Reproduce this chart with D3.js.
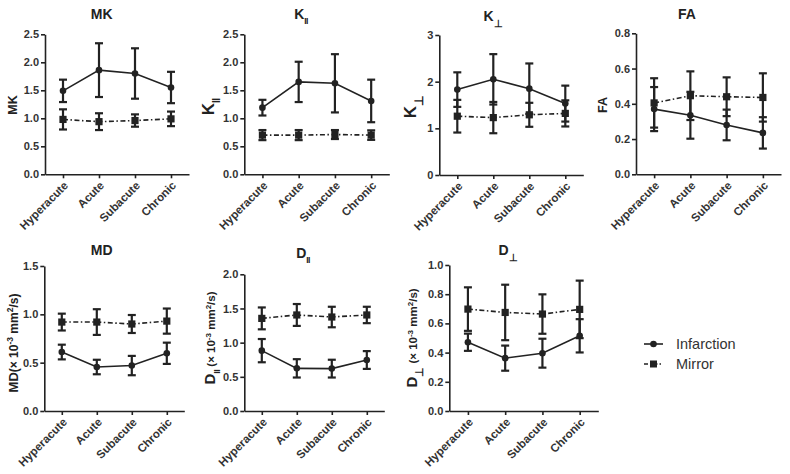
<!DOCTYPE html>
<html><head><meta charset="utf-8">
<script src="https://cdn.jsdelivr.net/npm/d3@7"></script>
<style>
html,body{margin:0;padding:0;background:#fff;}
svg{display:block;font-family:"Liberation Sans",Arial,sans-serif;}
</style></head>
<body><svg id="c" width="790" height="474"></svg>
<script>
// ---------- data ----------
const categories = ["Hyperacute", "Acute", "Subacute", "Chronic"];
const seriesNames = ["Infarction", "Mirror"];

const mkInfarction   = [1.49, 1.86, 1.80, 1.55];
const mkInfarctionSD = [0.20, 0.48, 0.45, 0.28];
const mkMirror       = [0.98, 0.94, 0.96, 0.99];
const mkMirrorSD     = [0.18, 0.15, 0.11, 0.13];

const kParInfarction   = [1.19, 1.65, 1.625, 1.31];
const kParInfarctionSD = [0.14, 0.36, 0.52, 0.38];
const kParMirror       = [0.70, 0.70, 0.71, 0.70];
const kParMirrorSD     = [0.09, 0.09, 0.08, 0.085];

const kPerpInfarction   = [1.83, 2.05, 1.85, 1.53];
const kPerpInfarctionSD = [0.37, 0.54, 0.54, 0.385];
const kPerpMirror       = [1.26, 1.23, 1.29, 1.32];
const kPerpMirrorSD     = [0.35, 0.335, 0.257, 0.28];

const faInfarction   = [0.37, 0.335, 0.28, 0.235];
const faInfarctionSD = [0.125, 0.133, 0.087, 0.089];
const faMirror       = [0.405, 0.446, 0.44, 0.436];
const faMirrorSD     = [0.14, 0.138, 0.11, 0.137];

const mdInfarction   = [0.61, 0.455, 0.47, 0.597];
const mdInfarctionSD = [0.076, 0.075, 0.10, 0.11];
const mdMirror       = [0.92, 0.92, 0.90, 0.93];
const mdMirrorSD     = [0.087, 0.133, 0.093, 0.13];

const dParInfarction   = [0.883, 0.624, 0.62, 0.746];
const dParInfarctionSD = [0.17, 0.134, 0.13, 0.13];
const dParMirror       = [1.355, 1.405, 1.375, 1.405];
const dParMirrorSD     = [0.16, 0.16, 0.15, 0.12];

const dPerpInfarction   = [0.471, 0.362, 0.396, 0.515];
const dPerpInfarctionSD = [0.059, 0.086, 0.099, 0.114];
const dPerpMirror       = [0.698, 0.675, 0.664, 0.696];
const dPerpMirrorSD     = [0.149, 0.19, 0.135, 0.197];

const mkTicks   = [0, 0.5, 1.0, 1.5, 2.0, 2.5];
const kParTicks = [0, 0.5, 1.0, 1.5, 2.0, 2.5];
const kPerpTicks= [0, 1, 2, 3];
const faTicks   = [0, 0.2, 0.4, 0.6, 0.8];
const mdTicks   = [0, 0.5, 1.0, 1.5];
const dParTicks = [0, 0.5, 1.0, 1.5, 2.0];
const dPerpTicks= [0, 0.2, 0.4, 0.6, 0.8, 1.0];

// ---------- layout ----------
const ink = "#222";
const txt = "#333";
const PAR = "II";       // parallel sign as drawn in the figure
const PERP = "\u22A5";  // perpendicular sign
const panels = [
  {inf: mkInfarction, infSD: mkInfarctionSD, mir: mkMirror, mirSD: mkMirrorSD, ticks: mkTicks, fmt: ".1f",
   x0: 45, top: 34.3, bottom: 174.3, len: 144, title: [["MK"]], tx: 101.7, ty: 19,
   ylab: [["MK"]], lx: 17, ly: 105},
  {inf: kParInfarction, infSD: kParInfarctionSD, mir: kParMirror, mirSD: kParMirrorSD, ticks: kParTicks, fmt: ".1f",
   x0: 244.3, top: 34.3, bottom: 174.3, len: 145, title: [["K"], [PAR, "sub", 8.5]], tx: 301, ty: 19,
   ylab: [["K", null, 17], [PAR, "sub", 10]], lx: 214, ly: 107},
  {inf: kPerpInfarction, infSD: kPerpInfarctionSD, mir: kPerpMirror, mirSD: kPerpMirrorSD, ticks: kPerpTicks, fmt: "d",
   x0: 439.3, top: 35, bottom: 175, len: 144, title: [["K"], [PERP, "sub", 10]], tx: 493, ty: 21,
   ylab: [["K", null, 17], [PERP, "sub", 12]], lx: 416, ly: 107},
  {inf: faInfarction, infSD: faInfarctionSD, mir: faMirror, mirSD: faMirrorSD, ticks: faTicks, fmt: ".1f",
   x0: 636, top: 33.3, bottom: 174.3, len: 145, title: [["FA"]], tx: 687, ty: 19,
   ylab: [["FA"]], lx: 607, ly: 105},
  {inf: mdInfarction, infSD: mdInfarctionSD, mir: mdMirror, mirSD: mdMirrorSD, ticks: mdTicks, fmt: ".1f",
   x0: 44.3, top: 266, bottom: 411, len: 140, title: [["MD"]], tx: 101.7, ty: 255,
   ylab: [["MD", null, 13], ["(\u00D7 10", null, 12], ["-3", "super", 8.5], [" mm", null, 12], ["2", "super", 8.5], ["/s)", null, 12]], lx: 18, ly: 343},
  {inf: dParInfarction, infSD: dParInfarctionSD, mir: dParMirror, mirSD: dParMirrorSD, ticks: dParTicks, fmt: ".1f",
   x0: 244.3, top: 274.3, bottom: 411, len: 140, title: [["D"], [PAR, "sub", 8.5]], tx: 303, ty: 258,
   ylab: [["D", null, 15], [PAR, "sub", 9], ["  (\u00D7 10", null, 11.5], ["-3", "super", 8], [" mm", null, 11.5], ["2", "super", 8], ["/s)", null, 11.5]], lx: 215, ly: 338},
  {inf: dPerpInfarction, infSD: dPerpInfarctionSD, mir: dPerpMirror, mirSD: dPerpMirrorSD, ticks: dPerpTicks, fmt: ".1f",
   x0: 449.3, top: 265, bottom: 411, len: 149, title: [["D"], [PERP, "sub", 10]], tx: 508, ty: 255,
   ylab: [["D", null, 15], [PERP, "sub", 11], [" (\u00D7 10", null, 11.5], ["-3", "super", 8], [" mm", null, 11.5], ["2", "super", 8], ["/s)", null, 11.5]], lx: 417, ly: 338}
];

const svg = d3.select("#c");

function addRich(sel, parts, baseSize) {
  parts.forEach(p => {
    const t = sel.append("tspan").text(p[0]);
    const size = p[2] || baseSize;
    if (p[1] === "sub") { t.attr("baseline-shift", "sub").attr("font-size", size); }
    else if (p[1] === "super") { t.attr("baseline-shift", "super").attr("font-size", size); }
    else t.attr("font-size", size);
    if (p[0] === PAR) t.attr("letter-spacing", -0.6);
  });
}

panels.forEach(p => {
  const g = svg.append("g");
  const x = d3.scalePoint().domain(categories).range([p.x0, p.x0 + p.len]).padding(0.5);
  const y = d3.scaleLinear().domain([0, d3.max(p.ticks)]).range([p.bottom, p.top]);

  const ya = g.append("g").attr("transform", `translate(${p.x0},0)`)
    .call(d3.axisLeft(y).tickValues(p.ticks).tickFormat(d3.format(p.fmt)).tickSize(4).tickSizeOuter(0).tickPadding(2));
  const xa = g.append("g").attr("transform", `translate(0,${p.bottom})`)
    .call(d3.axisBottom(x).tickSize(4).tickSizeOuter(0).tickFormat(""));
  [ya, xa].forEach(a => {
    a.select(".domain").attr("stroke", ink).attr("stroke-width", 1.6);
    a.selectAll(".tick line").attr("stroke", ink).attr("stroke-width", 1.6);
  });
  ya.selectAll(".tick text").attr("fill", txt).attr("font-size", 11).attr("font-weight", "bold")
    .attr("font-family", "Liberation Sans, Arial, sans-serif");
  g.selectAll(".clab").data(categories).join("text")
    .attr("transform", d => `translate(${x(d) + 3},${p.bottom + 9}) rotate(-45)`)
    .attr("text-anchor", "end").attr("dy", "0.35em")
    .attr("font-size", 11.5).attr("font-weight", "bold").attr("fill", txt)
    .text(d => d);

  const tt = g.append("text").attr("x", p.tx).attr("y", p.ty).attr("text-anchor", "middle")
    .attr("font-weight", "bold").attr("fill", ink);
  addRich(tt, p.title, 14);

  const yl = g.append("text").attr("transform", `translate(${p.lx},${p.ly}) rotate(-90)`)
    .attr("text-anchor", "middle").attr("font-weight", "bold").attr("fill", ink);
  addRich(yl, p.ylab, 12.5);

  const series = [
    {vals: p.inf, sd: p.infSD, dash: null, shape: "circle"},
    {vals: p.mir, sd: p.mirSD, dash: "5,2.5,1.5,2.5", shape: "square"}
  ];
  series.forEach(s => {
    const eg = g.append("g").attr("stroke", ink).attr("stroke-width", 2.2).attr("fill", "none");
    categories.forEach((c, i) => {
      const cx = x(c), hi = y(s.vals[i] + s.sd[i]), lo = y(s.vals[i] - s.sd[i]);
      eg.append("line").attr("x1", cx).attr("x2", cx).attr("y1", hi).attr("y2", lo);
      eg.append("line").attr("x1", cx - 4).attr("x2", cx + 4).attr("y1", hi).attr("y2", hi);
      eg.append("line").attr("x1", cx - 4).attr("x2", cx + 4).attr("y1", lo).attr("y2", lo);
    });
  });
  series.forEach(s => {
    const line = d3.line().x((d, i) => x(categories[i])).y(d => y(d));
    g.append("path").datum(s.vals).attr("d", line).attr("fill", "none")
      .attr("stroke", ink).attr("stroke-width", 1.6)
      .attr("stroke-dasharray", s.dash);
    if (s.shape === "circle") {
      g.selectAll(null).data(s.vals).join("circle")
        .attr("cx", (d, i) => x(categories[i])).attr("cy", d => y(d)).attr("r", 3.3).attr("fill", ink);
    } else {
      g.selectAll(null).data(s.vals).join("rect")
        .attr("x", (d, i) => x(categories[i]) - 3.6).attr("y", d => y(d) - 3.6)
        .attr("width", 7.2).attr("height", 7.2).attr("fill", ink);
    }
  });
});

// legend
const lg = svg.append("g");
seriesNames.forEach((n, i) => {
  const ly = 344 + i * 20;
  lg.append("line").attr("x1", 644).attr("x2", 663).attr("y1", ly).attr("y2", ly)
    .attr("stroke", ink).attr("stroke-width", 1.6)
    .attr("stroke-dasharray", i === 0 ? null : "4,2,1.5,2");
  if (i === 0) lg.append("circle").attr("cx", 653.5).attr("cy", ly).attr("r", 3.3).attr("fill", ink);
  else lg.append("rect").attr("x", 650).attr("y", ly - 3.5).attr("width", 7).attr("height", 7).attr("fill", ink);
  lg.append("text").attr("x", 676).attr("y", ly).attr("dy", "0.35em")
    .attr("font-size", 14.5).attr("fill", txt).text(n);
});
</script></body></html>
